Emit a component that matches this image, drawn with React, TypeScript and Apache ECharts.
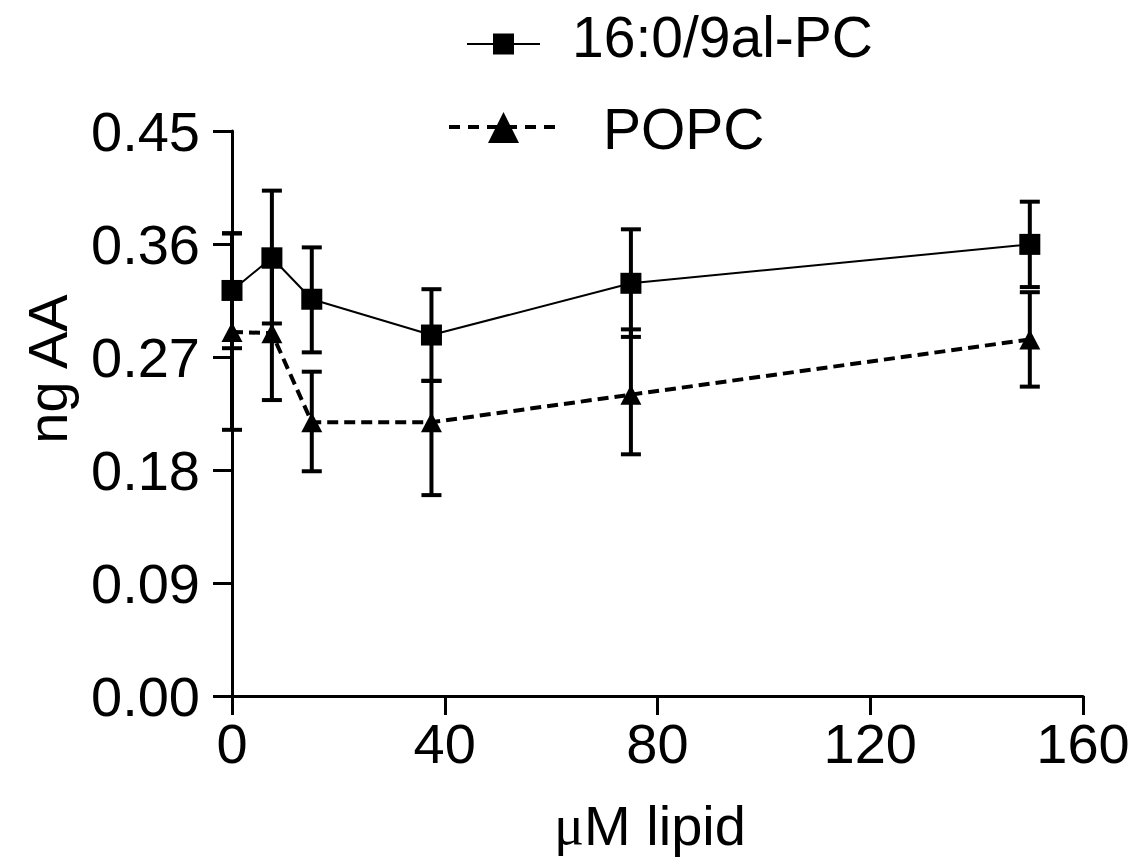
import React, { useEffect, useRef } from "react";
import * as echarts from "echarts";

const xValues = [0, 7.5, 15, 37.5, 75, 150];
const alpcMean = [0.323, 0.349, 0.316, 0.2875, 0.3287, 0.3597];
const alpcLow = [0.277, 0.2967, 0.2737, 0.251, 0.286, 0.3257];
const alpcHigh = [0.3685, 0.4025, 0.3573, 0.324, 0.3717, 0.3937];
const popcMean = [0.29, 0.289, 0.218, 0.218, 0.24, 0.284];
const popcLow = [0.212, 0.2357, 0.179, 0.16, 0.1925, 0.2464];
const popcHigh = [0.3685, 0.342, 0.2583, 0.251, 0.292, 0.3216];
const yTicks = [0, 0.09, 0.18, 0.27, 0.36, 0.45];
const xTicks = [0, 40, 80, 120, 160];
const seriesNames = ["16:0/9al-PC", "POPC"];
const xTitleMu = "μ";
const xTitleRest = "M lipid";
const yTitle = "ng AA";

const FONT = "'Liberation Sans', Arial, sans-serif";
const FS = 56;

function errRender(params: any, api: any) {
  const x = api.value(0);
  const lo = api.coord([x, api.value(1)]);
  const hi = api.coord([x, api.value(2)]);
  const hw = 10;
  const st = { stroke: "#000", lineWidth: 4 };
  return {
    type: "group",
    children: [
      { type: "line", shape: { x1: lo[0], y1: lo[1], x2: hi[0], y2: hi[1] }, style: st },
      { type: "line", shape: { x1: lo[0] - hw, y1: lo[1], x2: lo[0] + hw, y2: lo[1] }, style: st },
      { type: "line", shape: { x1: hi[0] - hw, y1: hi[1], x2: hi[0] + hw, y2: hi[1] }, style: st },
    ],
  };
}

export default function App() {
  const ref = useRef<HTMLDivElement>(null);
  useEffect(() => {
    document.body.style.margin = "0";
    const chart = echarts.init(ref.current!, null, { renderer: "svg" });
    const alpcErr = xValues.map((x, i) => [x, alpcLow[i], alpcHigh[i]]);
    const popcErr = xValues.map((x, i) => [x, popcLow[i], popcHigh[i]]);
    chart.setOption({
      animation: false,
      backgroundColor: "#fff",
      grid: { left: 232, top: 131, right: 61, bottom: 163, containLabel: false },
      xAxis: {
        type: "value",
        min: xTicks[0],
        max: xTicks[xTicks.length - 1],
        interval: 40,
        axisLine: { show: true, lineStyle: { color: "#000", width: 3 } },
        axisTick: { show: true, length: 19, lineStyle: { color: "#000", width: 3 } },
        axisLabel: { color: "#000", fontSize: FS, fontFamily: FONT, margin: 19 },
        splitLine: { show: false },
      },
      yAxis: {
        type: "value",
        min: yTicks[0],
        max: yTicks[yTicks.length - 1],
        interval: 0.09,
        axisLine: { show: true, lineStyle: { color: "#000", width: 3 } },
        axisTick: { show: true, length: 19, lineStyle: { color: "#000", width: 3 } },
        axisLabel: {
          color: "#000",
          fontSize: FS,
          fontFamily: FONT,
          margin: 32,
          formatter: (v: number) => v.toFixed(2),
        },
        splitLine: { show: false },
      },
      series: [
        {
          type: "custom",
          name: seriesNames[0] + " err",
          renderItem: errRender,
          data: alpcErr,
          encode: { x: 0, y: [1, 2] },
          clip: false,
          z: 3,
        },
        {
          type: "custom",
          name: seriesNames[1] + " err",
          renderItem: errRender,
          data: popcErr,
          encode: { x: 0, y: [1, 2] },
          clip: false,
          z: 3,
        },
        {
          type: "line",
          name: seriesNames[0],
          data: xValues.map((x, i) => [x, alpcMean[i]]),
          symbol: "rect",
          symbolSize: 21,
          lineStyle: { color: "#000", width: 2 },
          itemStyle: { color: "#000" },
          clip: false,
          z: 4,
        },
        {
          type: "line",
          name: seriesNames[1],
          data: xValues.map((x, i) => [x, popcMean[i]]),
          symbol: "triangle",
          symbolSize: [21, 20],
          lineStyle: { color: "#000", width: 4, type: [11, 6] },
          itemStyle: { color: "#000" },
          clip: false,
          z: 4,
        },
      ],
      graphic: [
        {
          type: "line",
          shape: { x1: 467, y1: 44, x2: 540, y2: 44 },
          style: { stroke: "#000", lineWidth: 2 },
        },
        {
          type: "rect",
          shape: { x: 493, y: 33.5, width: 21, height: 21 },
          style: { fill: "#000" },
        },
        {
          type: "text",
          x: 572,
          y: 37,
          style: {
            text: seriesNames[0],
            fontSize: 57,
            fontFamily: FONT,
            fill: "#000",
            align: "left",
            verticalAlign: "middle",
          },
        },
        {
          type: "line",
          shape: { x1: 449, y1: 127, x2: 558, y2: 127 },
          style: { stroke: "#000", lineWidth: 4, lineDash: [11, 8] },
        },
        {
          type: "polygon",
          shape: { points: [[488, 143], [519, 143], [503.5, 112]] },
          style: { fill: "#000" },
        },
        {
          type: "text",
          x: 603,
          y: 129,
          style: {
            text: seriesNames[1],
            fontSize: 57,
            fontFamily: FONT,
            fill: "#000",
            align: "left",
            verticalAlign: "middle",
          },
        },
        {
          type: "text",
          x: 650,
          y: 825,
          style: {
            text: "{mu|" + xTitleMu + "}" + xTitleRest,
            rich: { mu: { fontSize: FS, fontFamily: "'Liberation Serif', serif", fill: "#000" } },
            fontSize: FS,
            fontFamily: FONT,
            fill: "#000",
            align: "center",
            verticalAlign: "middle",
          },
        },
        {
          type: "text",
          x: 47,
          y: 369,
          rotation: Math.PI / 2,
          style: {
            text: yTitle,
            fontSize: FS,
            fontFamily: FONT,
            fill: "#000",
            align: "center",
            verticalAlign: "middle",
          },
        },
      ],
    });
    return () => chart.dispose();
  }, []);
  return <div ref={ref} style={{ width: 1144, height: 859 }} />;
}
